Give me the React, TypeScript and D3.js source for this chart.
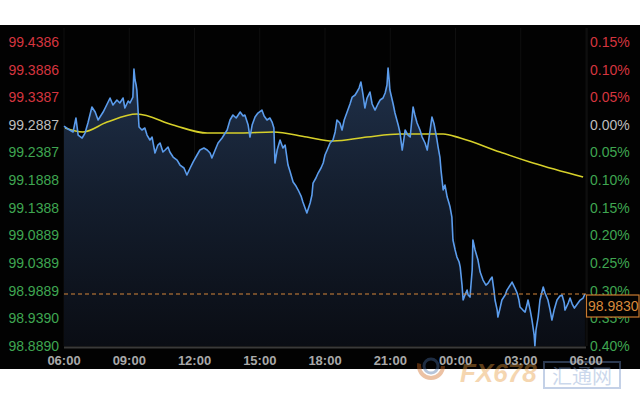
import React from "react";
import * as d3 from "d3";

// minutes since 06:00
const priceTimes = [0,11,25,33,39,50,58,66,77,86,94,108,119,127,135,146,154,163,168,177,182,190,193,196,199,201,207,215,223,229,237,243,251,259,265,273,279,287,292,301,312,320,331,339,348,356,367,375,386,395,403,408,417,425,436,450,458,466,475,486,494,499,508,513,519,527,535,546,552,560,568,574,579,582,588,596,604,610,618,624,632,640,646,654,659,665,670,679,684,687,695,701,709,715,720,726,734,742,748,753,761,767,773,781,789,795,803,808,814,819,825,830,836,844,850,858,866,872,880,886,891,894,897,899,908,913,922,927,933,938,941,949,955,960,963,968,974,982,988,996,1002,1010,1015,1021,1024,1029,1032,1037,1040,1046,1051,1057,1062,1065,1070,1073,1079,1084,1090,1093,1098,1101,1106,1112,1115,1120,1126,1128,1134,1142,1148,1156,1164,1170,1175,1181,1186,1189,1195,1197,1203,1208,1217,1222,1231,1236,1244,1250,1255,1258,1266,1272,1277,1280,1286,1291,1297,1299,1302,1308,1313,1322,1327,1335,1341,1346,1352,1360,1368,1374,1380,1382,1391,1396,1402,1408,1418,1424,1432,1437];
const priceValues = [99.2867,99.2813,99.2759,99.3012,99.2704,99.2650,99.2740,99.2921,99.3211,99.3120,99.2976,99.3120,99.3265,99.3373,99.3247,99.3337,99.3283,99.3373,99.3193,99.3319,99.3283,99.3391,99.3898,99.3699,99.3608,99.3518,99.2849,99.2795,99.2831,99.2704,99.2614,99.2668,99.2379,99.2523,99.2560,99.2397,99.2433,99.2487,99.2397,99.2306,99.2252,99.2162,99.2108,99.1981,99.2108,99.2216,99.2343,99.2433,99.2469,99.2433,99.2379,99.2288,99.2433,99.2560,99.2650,99.2795,99.2976,99.3066,99.3012,99.3120,99.3048,99.3066,99.2885,99.2668,99.2885,99.3030,99.3102,99.3156,99.3048,99.2976,99.3012,99.2939,99.2831,99.2198,99.2433,99.2614,99.2469,99.2523,99.2162,99.2035,99.1854,99.1782,99.1710,99.1601,99.1493,99.1384,99.1294,99.1475,99.1619,99.1836,99.1927,99.2017,99.2108,99.2198,99.2343,99.2433,99.2560,99.2614,99.2759,99.2976,99.2921,99.2795,99.2976,99.3120,99.3265,99.3391,99.3428,99.3482,99.3554,99.3663,99.3428,99.3193,99.3373,99.3482,99.3265,99.3156,99.3265,99.3337,99.3373,99.3464,99.3608,99.3916,99.3699,99.3518,99.3265,99.3102,99.2885,99.2740,99.2433,99.2650,99.2795,99.2704,99.2668,99.3012,99.3211,99.3066,99.2921,99.2795,99.2668,99.2560,99.2433,99.2795,99.3030,99.2903,99.2795,99.2614,99.2487,99.2306,99.2071,99.1710,99.1800,99.1583,99.1475,99.1402,99.1221,99.0806,99.0625,99.0498,99.0408,99.0317,98.9992,98.9721,98.9811,98.9901,98.9811,98.9775,99.0263,99.0806,99.0625,99.0444,99.0227,99.0082,98.9992,99.0028,99.0082,99.0136,98.9901,98.9721,98.9540,98.9413,98.9576,98.9721,98.9811,98.9901,98.9992,99.0046,98.9938,98.9847,98.9721,98.9594,98.9540,98.9504,98.9630,98.9721,98.9540,98.9359,98.9088,98.8889,98.9178,98.9413,98.9721,98.9956,98.9847,98.9721,98.9540,98.9359,98.9540,98.9721,98.9793,98.9811,98.9666,98.9540,98.9666,98.9757,98.9648,98.9576,98.9666,98.9721,98.9757,98.9830];

const maTimes = [3,52,119,201,301,395,486,577,670,742,836,927,1046,1093,1203,1294,1432];
const maValues = [99.2831,99.2759,99.2939,99.3084,99.2885,99.2740,99.2740,99.2759,99.2668,99.2596,99.2668,99.2722,99.2722,99.2650,99.2397,99.2198,99.1945];

const leftTicks = [99.4386,99.3886,99.3387,99.2887,99.2387,99.1888,99.1388,99.0889,99.0389,98.9889,98.9390,98.8890];
const leftTickLabels = ["99.4386","99.3886","99.3387","99.2887","99.2387","99.1888","99.1388","99.0889","99.0389","98.9889","98.9390","98.8890"];
const rightTickLabels = ["0.15%","0.10%","0.05%","0.00%","0.05%","0.10%","0.15%","0.20%","0.25%","0.30%","0.35%","0.40%"];
const xTickTimes = [0,180,360,540,720,900,1080,1260,1440];
const xTickLabels = ["06:00","09:00","12:00","15:00","18:00","21:00","00:00","03:00","06:00"];
const basePrice = 99.2887;
const lastPrice = 98.983;
const lastPriceLabel = "98.9830";

const W = 640, H = 400;
const L = 64, R = 586, T = 42, B = 346;
const RED = "#d5353f", GREEN = "#3fa651", GREY = "#bdbdbd";

export default function App() {
  const x = d3.scaleLinear().domain([0, 1440]).range([L, R]);
  const y = d3.scaleLinear().domain([98.889, 99.4386]).range([B, T]);
  const pts = priceTimes.map((t, i) => [t, priceValues[i]] as [number, number]);
  const ma = maTimes.map((t, i) => [t, maValues[i]] as [number, number]);
  const line = d3.line<[number, number]>().x(d => x(d[0])).y(d => y(d[1]));
  const area = d3.area<[number, number]>().x(d => x(d[0])).y0(B).y1(d => y(d[1]));
  const maLine = d3.line<[number, number]>().x(d => x(d[0])).y(d => y(d[1])).curve(d3.curveMonotoneX);
  const colorFor = (v: number) => (Math.abs(v - basePrice) < 1e-4 ? GREY : v > basePrice ? RED : GREEN);
  const font = "Arial, 'Liberation Sans', sans-serif";
  const ly = y(lastPrice);
  return (
    <svg width={W} height={H} style={{ position: "absolute", left: 0, top: 0 }} fontFamily={font}>
      <defs>
        <linearGradient id="fillg" gradientUnits="userSpaceOnUse" x1="0" y1={T} x2="0" y2={B}>
          <stop offset="0" stopColor="#22344f" />
          <stop offset="0.5" stopColor="#141e2e" />
          <stop offset="1" stopColor="#0a0d14" />
        </linearGradient>
      </defs>
      <rect x={0} y={0} width={W} height={H} fill="#fff" />
      <rect x={0} y={25} width={W} height={344} fill="#020202" />
      {xTickTimes.map((t, i) => (
        <line key={"vg" + i} x1={x(t)} x2={x(t)} y1={28} y2={B} stroke="#0f0f0f" strokeWidth={1} />
      ))}
      <line x1={R + 1} x2={R + 1} y1={28} y2={B} stroke="#141414" />
      <path d={area(pts) || ""} fill="url(#fillg)" />
      <path d={maLine(ma) || ""} fill="none" stroke="#d6d02a" strokeWidth={1.6} />
      <path d={line(pts) || ""} fill="none" stroke="#5b9cec" strokeWidth={1.6} strokeLinejoin="round" />
      <line x1={L} x2={R} y1={B + 1.5} y2={B + 1.5} stroke="#3a3a3a" strokeWidth={2} />
      <line x1={L} x2={R} y1={ly} y2={ly} stroke="#d4863a" strokeWidth={1.2} strokeDasharray="4,3" />
      <g opacity={0.4}>
        <circle cx={431} cy={366} r={12} fill="none" stroke="#d2691e" strokeWidth={4} strokeDasharray="40,36" />
        <circle cx={431} cy={366} r={7} fill="none" stroke="#4a6fa5" strokeWidth={3} />
        <text x={460} y={382} fontSize={26} fontWeight="bold" fill="#e89a3c" fontStyle="italic">FX678</text>
        <rect x={544} y={362} width={76} height={26} fill="none" stroke="#6d8fc4" strokeWidth={2} />
        <text x={582} y={384} fontSize={20} textAnchor="middle" fill="#7f9fd0" fontFamily="'Noto Sans CJK SC', sans-serif">汇通网</text>
      </g>
      {leftTicks.map((v, i) => (
        <text key={"l" + i} x={59} y={y(v)} dy="0.35em" textAnchor="end" fontSize={14} fill={colorFor(v)}>
          {leftTickLabels[i]}
        </text>
      ))}
      {leftTicks.map((v, i) => (
        <text key={"r" + i} x={590} y={y(v)} dy="0.35em" textAnchor="start" fontSize={14} fill={colorFor(v)}>
          {rightTickLabels[i]}
        </text>
      ))}
      {xTickTimes.map((t, i) => (
        <text key={"x" + i} x={x(t)} y={360} dy="0.35em" textAnchor="middle" fontSize={13} fontWeight="bold" fill="#a9a9a9">
          {xTickLabels[i]}
        </text>
      ))}
      <rect x={586.5} y={ly + 1} width={52.5} height={22} fill="#020202" stroke="#c97a30" strokeWidth={1.2} />
      <text x={588} y={ly + 12} dy="0.35em" fontSize={14} fill="#d98a3c">{lastPriceLabel}</text>
    </svg>
  );
}
